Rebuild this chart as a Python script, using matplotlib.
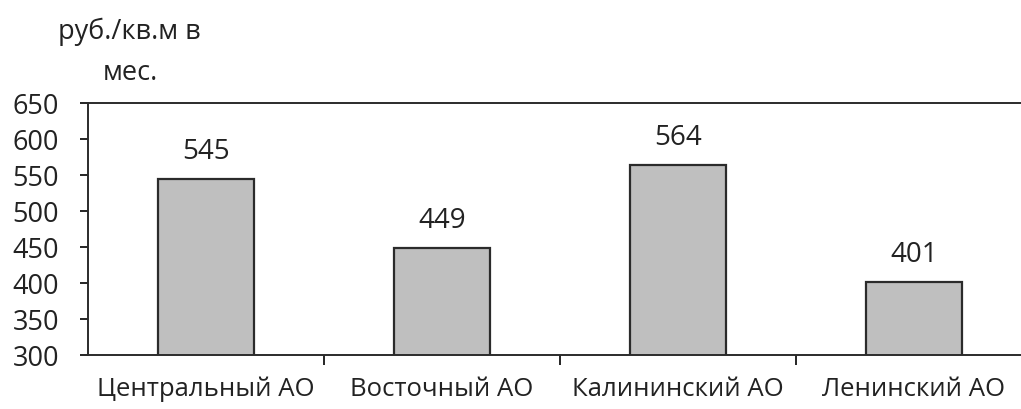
import matplotlib.pyplot as plt

districts = ["Центральный АО", "Восточный АО", "Калининский АО", "Ленинский АО"]
prices = [545, 449, 564, 401]
y_ticks = [300, 350, 400, 450, 500, 550, 600, 650]

plt.rcParams['font.family'] = ['Open Sans', 'DejaVu Sans']
txt = "#222222"

fig = plt.figure(figsize=(10.21, 4.10), dpi=100)
ax = fig.add_axes([88 / 1021, 54 / 410, 944 / 1021, 252 / 410])

x = range(len(districts))
bars = ax.bar(x, prices, width=0.41, color="#bfbfbf", edgecolor="#2b2b2b", linewidth=1.6)

for b, v in zip(bars, prices):
    ax.annotate(str(v), (b.get_x() + b.get_width() / 2, v), xytext=(0, 10),
                textcoords="offset points", ha="center", va="bottom",
                fontsize=20, color=txt)

ax.set_xlim(-0.5, len(districts) - 0.5)
ax.set_ylim(300, 650)
ax.set_yticks(y_ticks)
ax.tick_params(axis="y", length=6, width=1.2, labelsize=19.5, labelcolor=txt, pad=15)

# category ticks sit between bars, labels in the middle
ax.set_xticks([i + 0.5 for i in range(len(districts) - 1)])
ax.set_xticklabels([])
ax.set_xticks(list(x), minor=True)
ax.set_xticklabels(districts, minor=True)
ax.tick_params(axis="x", which="major", length=7, width=1.2)
ax.tick_params(axis="x", which="minor", length=0, labelsize=18.5, labelcolor=txt, pad=15)

ax.spines["right"].set_visible(False)
for s in ["left", "bottom", "top"]:
    ax.spines[s].set_linewidth(1.4)
    ax.spines[s].set_color("#2b2b2b")

fig.text(129 / 1021, 1 - 32 / 410, "руб./кв.м в", ha="center", va="center",
         fontsize=19.5, color=txt)
fig.text(130 / 1021, 1 - 73 / 410, "мес.", ha="center", va="center",
         fontsize=19.5, color=txt)

fig.savefig("out.png", dpi=100)
